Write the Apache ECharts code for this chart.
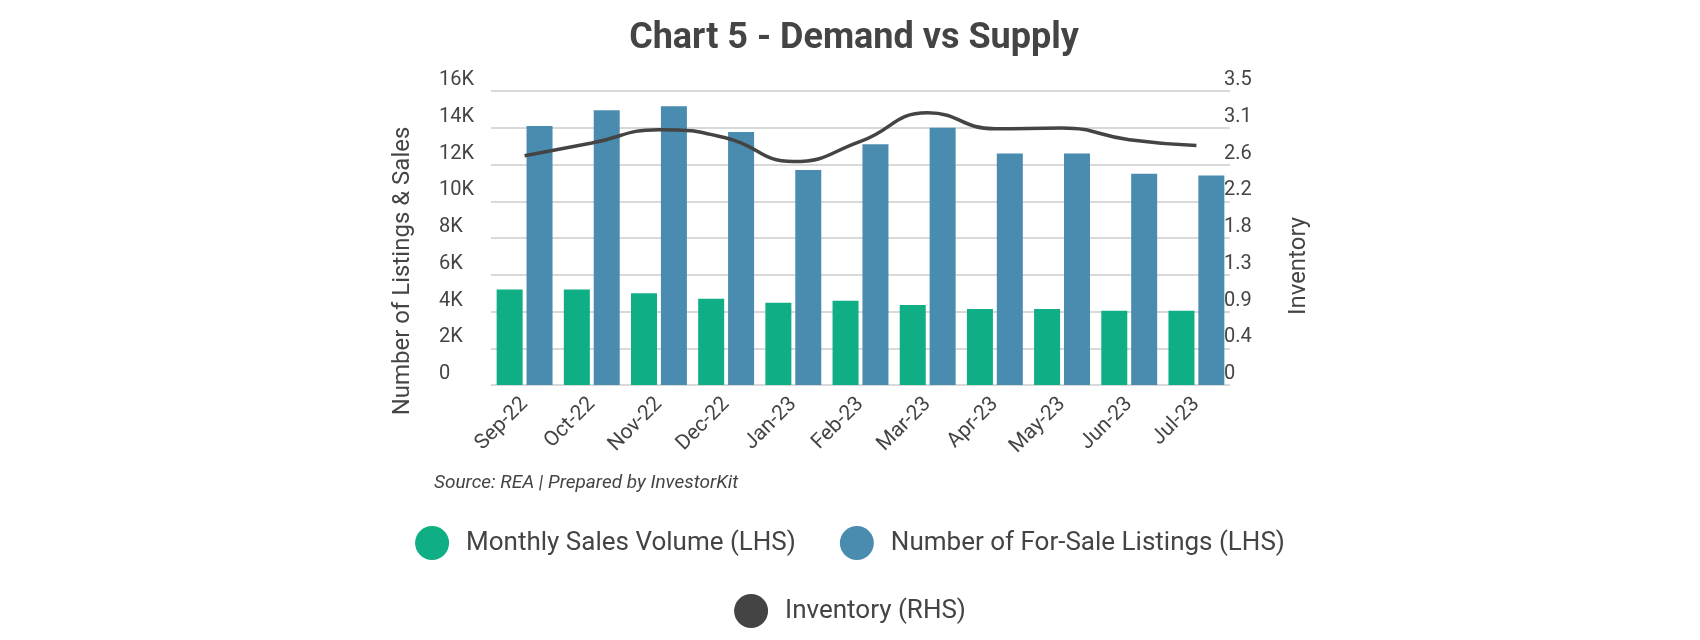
<!DOCTYPE html>
<html><head><meta charset="utf-8">
<script src="https://cdn.jsdelivr.net/npm/echarts@6/dist/echarts.min.js"></script>
<style>html,body{margin:0;background:#fff}#c{width:1700px;height:640px}</style>
</head><body><div id="c"></div>
<script>
const categories=['Sep-22','Oct-22','Nov-22','Dec-22','Jan-23','Feb-23','Mar-23','Apr-23','May-23','Jun-23','Jul-23'];
const salesVolume=[5200,5200,5000,4700,4470,4580,4360,4140,4140,4040,4040];
const listings=[14100,14950,15170,13770,11700,13100,14000,12600,12600,11500,11400];
const inventory=[2.73,2.88,3.04,2.94,2.66,2.9,3.24,3.05,3.06,2.92,2.85];
const leftTicks=['0','2K','4K','6K','8K','10K','12K','14K','16K'];
const rightTicks=['0','0.4','0.9','1.3','1.8','2.2','2.6','3.1','3.5'];
const F='Roboto';
const chart=echarts.init(document.getElementById('c'));
chart.setOption({
 animation:false,
 textStyle:{fontFamily:F},
 title:{text:'Chart 5 - Demand vs Supply',left:849,top:16,textAlign:'center',textStyle:{fontFamily:F,fontSize:36,fontWeight:'bold',color:'#444'}},
 grid:{left:491,width:739,top:91,height:294},
 graphic:[{type:'text',left:434,top:474,style:{text:'Source: REA | Prepared by InvestorKit',font:'italic 19px Roboto',fill:'#444'}},
  {type:'text',x:403,y:271,rotation:Math.PI/2,style:{text:'Number of Listings & Sales',font:'24px Roboto',fill:'#444',align:'center',verticalAlign:'middle'}},
  {type:'text',x:1299,y:266,rotation:Math.PI/2,style:{text:'Inventory',font:'24px Roboto',fill:'#444',align:'center',verticalAlign:'middle'}}],
 legend:[{data:['Monthly Sales Volume (LHS)','Number of For-Sale Listings (LHS)'],left:'center',top:521,icon:'circle',itemWidth:34,itemHeight:34,itemGap:44,textStyle:{fontSize:26,color:'#444',fontFamily:F,padding:[0,0,0,12]}},
  {data:['Inventory (RHS)'],left:'center',top:589,icon:'circle',itemWidth:34,itemHeight:34,textStyle:{fontSize:26,color:'#444',fontFamily:F,padding:[0,0,0,12]}}],
 xAxis:{type:'category',data:categories,axisTick:{show:false},axisLine:{show:false},
  axisLabel:{rotate:45,fontSize:21,color:'#444',margin:16}},
 yAxis:[{type:'value',min:0,max:16000,interval:2000,
   axisLabel:{formatter:(v,i)=>leftTicks[i],fontSize:20,color:'#444',align:'left',verticalAlign:'bottom',margin:52,lineHeight:22},
   splitLine:{lineStyle:{color:'#d9d9d9',width:2}}},
  {type:'value',min:0,max:3.5,interval:0.4375,
   axisLabel:{formatter:(v,i)=>rightTicks[i],fontSize:20,color:'#444',align:'left',verticalAlign:'bottom',margin:-6,lineHeight:22},
   splitLine:{show:false}}],
 series:[{name:'Monthly Sales Volume (LHS)',type:'bar',data:salesVolume,barWidth:26,barGap:'15%',itemStyle:{color:'#0fae84'}},
  {name:'Number of For-Sale Listings (LHS)',type:'bar',data:listings,barWidth:26,itemStyle:{color:'#4a8bb0'}},
  {name:'Inventory (RHS)',type:'line',yAxisIndex:1,data:inventory,smooth:true,showSymbol:false,symbol:'circle',lineStyle:{color:'#444',width:3.5},itemStyle:{color:'#444'}}]
});
</script></body></html>
